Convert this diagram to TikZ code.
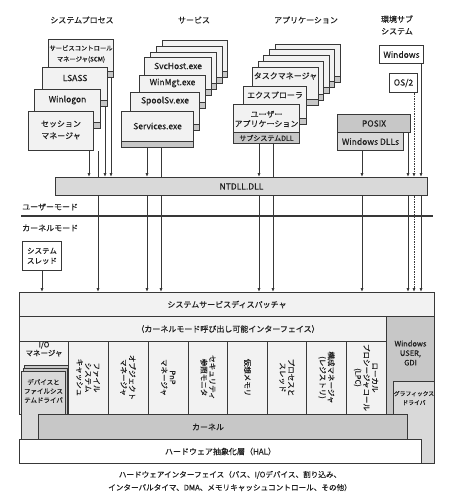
\documentclass[tikz,border=0pt]{standalone}
\usepackage{fontspec}
\setmainfont{Noto Sans CJK JP}[FakeBold=0.35]
\usetikzlibrary{arrows.meta,positioning}
\definecolor{boxFill}{gray}{0.95}
\definecolor{stripFill}{gray}{0.78}
\definecolor{darkFill}{gray}{0.78}
\definecolor{midFill}{gray}{0.85}
\definecolor{lineCol}{gray}{0.22}
\definecolor{textCol}{gray}{0.12}
\tikzset{
myProc/.style={
	draw=lineCol,fill=boxFill,line width=1pt,
	anchor=north west,inner sep=0pt
}
, myDll/.style={
	path picture={
		\fill[stripFill] (path picture bounding box.south west) rectangle ([yshift=6pt]path picture bounding box.south east);
		\draw[lineCol,line width=0.7pt] ([yshift=6pt]path picture bounding box.south west) -- ([yshift=6pt]path picture bounding box.south east);
	}
}
, myTxt/.style={align=center,inner sep=0pt,text=textCol,font=\fontsize{8}{9.5}\selectfont}
, myLat/.style={myTxt,font=\fontsize{8.5}{10}\selectfont}
, myHead/.style={myTxt,font=\fontsize{8}{12}\selectfont}
, myCell/.style={
	draw=lineCol,fill=boxFill,line width=1pt,
	rotate=-90,minimum width=73pt,minimum height=40pt,
	inner sep=0pt,align=center,text=textCol,
	font=\fontsize{7.5}{8.5}\selectfont
}
% links
, myLink/.style={draw=lineCol,line width=0.9pt,-{Latex[length=4pt,width=3.2pt]}}
, myLine/.style={draw=lineCol,line width=0.9pt}
, myDash/.style={myLink,dash pattern=on 1.5pt off 1pt}
}

\begin{document}
\begin{tikzpicture}[x=1pt,y=-1pt]
	\useasboundingbox (0,0) rectangle (460,504);
	% headings
	\node[myHead] (HeadSys) at (82,20) {システムプロセス};
	\node[myHead] (HeadSvc) at (194,20) {サービス};
	\node[myHead] (HeadApp) at (306,20) {アプリケーション};
	\node[myHead] (HeadEnv) at (397,25) {環境サブ\\システム};

	% system processes
	\node[myProc,myDll,minimum width=65pt,minimum height=38pt] (Scm) at (48,39) {};
	\node[myTxt,font=\fontsize{6.3}{11}\selectfont] (ScmTxt) at ([yshift=-15pt]Scm.north) {サービスコントロール\\マネージャ(SCM)};
	\node[myProc,myDll,minimum width=65pt,minimum height=39pt] (Lsass) at (42,67) {};
	\node[myLat] (LsassTxt) at ([yshift=-11pt]Lsass.north) {LSASS};
	\node[myProc,myDll,minimum width=66pt,minimum height=39pt] (Winlogon) at (34,89) {};
	\node[myLat] (WinlogonTxt) at ([yshift=-11pt]Winlogon.north) {Winlogon};
	\node[myProc,minimum width=65pt,minimum height=39pt] (Smss) at (28,111) {};
	\node[myTxt,font=\fontsize{8}{12}\selectfont] (SmssTxt) at ([yshift=-19pt]Smss.north) {セッション\\マネージャ};

	% services
	\node[myProc,myDll,minimum width=65pt,minimum height=37pt] (SvcBackA) at (162,40) {};
	\node[myProc,myDll,minimum width=66pt,minimum height=37pt] (SvcBackB) at (156,46) {};
	\node[myProc,myDll,minimum width=66pt,minimum height=37pt] (SvcBackC) at (150,52) {};
	\node[myProc,myDll,minimum width=67pt,minimum height=38pt] (SvcHost) at (144,57) {};
	\node[myLat] (SvcHostTxt) at ([yshift=-9pt]SvcHost.north) {SvcHost.exe};
	\node[myProc,myDll,minimum width=66pt,minimum height=33pt] (WinMgt) at (139,75) {};
	\node[myLat] (WinMgtTxt) at ([yshift=-8pt]WinMgt.north) {WinMgt.exe};
	\node[myProc,myDll,minimum width=69pt,minimum height=38pt] (SpoolSv) at (130,92) {};
	\node[myLat] (SpoolSvTxt) at ([yshift=-9pt]SpoolSv.north) {SpoolSv.exe};
	\node[myProc,myDll,minimum width=72pt,minimum height=36pt] (Services) at (121,111) {};
	\node[myLat] (ServicesTxt) at ([yshift=-15pt]Services.north) {Services.exe};

	% applications
	\node[myProc,myDll,minimum width=65pt,minimum height=38pt] (AppBackA) at (275,44) {};
	\node[myProc,myDll,minimum width=65pt,minimum height=38pt] (AppBackB) at (269,49) {};
	\node[myProc,myDll,minimum width=66pt,minimum height=38pt] (AppBackC) at (263,55) {};
	\node[myProc,myDll,minimum width=65pt,minimum height=39pt] (AppBackD) at (258,61) {};
	\node[myProc,myDll,minimum width=66pt,minimum height=38pt] (TaskMgr) at (252,67) {};
	\node[myTxt] (TaskMgrTxt) at ([yshift=-9pt]TaskMgr.north) {タスクマネージャ};
	\node[myProc,myDll,minimum width=63pt,minimum height=38pt] (Explorer) at (243,86) {};
	\node[myTxt] (ExplorerTxt) at ([yshift=-9pt]Explorer.north) {エクスプローラ};
	\node[myProc,minimum width=66pt,minimum height=28pt] (UserApp) at (233,104) {};
	\node[myTxt] (UserAppTxt) at ([yshift=-15pt]UserApp.north) {ユーザー\\アプリケーション};
	\node[myProc,fill=stripFill,minimum width=66pt,minimum height=11pt,font=\fontsize{7}{8}\selectfont,text=textCol] (SubDll) at (233,132) {サブシステムDLL};

	% environment subsystems
	\node[myProc,fill=white,minimum width=44pt,minimum height=18pt,myLat] (WinEnv) at (379,45) {Windows};
	\node[myProc,fill=white,minimum width=28pt,minimum height=19pt,myLat] (Os2) at (389,73) {OS/2};
	\node[myProc,fill=darkFill,minimum width=73pt,minimum height=18pt,myLat] (Posix) at (337,114) {POSIX};
	\node[myProc,fill=midFill,minimum width=66pt,minimum height=18pt,myLat] (WinDlls) at (337,132) {Windows DLLs};

	% ntdll and mode line
	\node[myProc,fill=midFill,minimum width=372pt,minimum height=18pt,myLat] (NtDll) at (55,177) {NTDLL.DLL};
	\coordinate (ModeL) at (21,216);
	\coordinate (ModeR) at (433,216);
	\draw[lineCol,line width=2pt] (ModeL) -- (ModeR);
	\node[myTxt,anchor=west] (UserMode) at (22,207) {ユーザーモード};
	\node[myTxt,anchor=west] (KernelMode) at (22,228) {カーネルモード};
	\node[myProc,fill=white,minimum width=39pt,minimum height=29pt,myTxt,font=\fontsize{7.5}{10}\selectfont] (SysThread) at (22,241) {システム\\スレッド};

	% kernel mode
	\node[myProc,minimum width=415pt,minimum height=24pt,myTxt] (Disp) at (19,292) {システムサービスディスパッチャ};
	\node[myProc,minimum width=367pt,minimum height=25pt] (Iface) at (19,316) {};
	\node[myTxt] (IfaceTxt) at ([xshift=25pt]Iface.center) {（カーネルモード呼び出し可能インターフェイス）};
	\node[myProc,fill=darkFill,minimum width=48pt,minimum height=147pt] (WinUser) at (386,316) {};
	\node[myLat,font=\fontsize{7.5}{9.5}\selectfont] (WinUserTxt) at ([yshift=-37pt]WinUser.north) {Windows\\USER,\\GDI};
	\node[myProc,minimum width=49pt,minimum height=73pt] (IoMgr) at (19,341) {};
	\node[myTxt,font=\fontsize{7.5}{8.5}\selectfont] (IoMgrTxt) at ([yshift=-8pt]IoMgr.north) {I/O\\マネージャ};
	\node[myCell] (FsCache) at (88,377.5) {ファイル\\システム\\キャッシュ};
	\node[myCell] (ObjMgr) at (128,377.5) {オブジェクト\\マネージャ};
	\node[myCell] (PnpMgr) at (168,377.5) {PnP\\マネージャ};
	\node[myCell] (SecMon) at (208,377.5) {セキュリティ\\参照モニタ};
	\node[myCell] (VmMgr) at (247.5,377.5) {仮想メモリ};
	\node[myCell] (ProcThr) at (287,377.5) {プロセスと\\スレッド};
	\node[myCell] (CfgMgr) at (326.5,377.5) {構成マネージャ\\(レジストリ)};
	\node[myCell] (Lpc) at (366,377.5) {ローカル\\プロシージャコール\\(LPC)};
	\node[myProc,fill=midFill,minimum width=41pt,minimum height=82pt] (GfxDrv) at (393,381) {};
	\node[myTxt,font=\fontsize{5.8}{9}\selectfont] (GfxDrvTxt) at ([yshift=-17pt]GfxDrv.north) {グラフィックス\\ドライバ};
	\node[myProc,fill=darkFill,minimum width=44pt,minimum height=72pt] (DevDrvB) at (24,365) {};
	\node[myProc,fill=darkFill,minimum width=44pt,minimum height=70pt] (DevDrvA) at (22.5,368) {};
	\node[myProc,fill=midFill,minimum width=44pt,minimum height=68pt] (DevDrv) at (21,371) {};
	\node[myTxt,font=\fontsize{6.5}{9}\selectfont] (DevDrvTxt) at ([yshift=-20pt]DevDrv.north) {デバイスと\\ファイルシス\\テムドライバ};
	\node[myProc,fill=darkFill,minimum width=369pt,minimum height=25pt] (Kernel) at (38,414) {};
	\node[myTxt] (KernelTxt) at ([xshift=-15pt]Kernel.center) {カーネル};
	\node[myProc,fill=white,minimum width=402pt,minimum height=24pt,myTxt] (Hal) at (19,439) {ハードウェア抽象化層（HAL）};
	\node[myTxt,font=\fontsize{7.6}{13}\selectfont] (HwIface) at (230,481) {ハードウェアインターフェイス（バス、I/Oデバイス、割り込み、\\インターバルタイマ、DMA、メモリキャッシュコントロール、その他）};

	% links user mode
	\draw[myLink] ([xshift=-5pt]Smss.south east) -- ([xshift=-5pt]Smss.south east |- NtDll.north);
	\draw[myLine] ([xshift=-3pt]Winlogon.south east |- Smss.south) -- ([xshift=-3pt]Winlogon.south east |- NtDll.north);
	\draw[myLink] ([xshift=-3pt]Lsass.south east) -- ([xshift=-3pt]Lsass.south east |- NtDll.north);
	\draw[myLink] ([xshift=-3pt]Scm.south east) -- ([xshift=-3pt]Scm.south east |- NtDll.north);
	\draw[myLink] ([xshift=26pt]Services.south west) -- ([xshift=26pt]Services.south west |- NtDll.north);
	\draw[myLine] ([xshift=40pt]Services.south west) -- ([xshift=40pt]Services.south west |- NtDll.north);
	\draw[myLink] ([xshift=26pt]SubDll.south west) -- ([xshift=26pt]SubDll.south west |- NtDll.north);
	\draw[myLine] ([xshift=40pt]SubDll.south west) -- ([xshift=40pt]SubDll.south west |- NtDll.north);
	\draw[myLink] ([xshift=25pt]WinDlls.south west) -- ([xshift=25pt]WinDlls.south west |- NtDll.north);
	\draw[myLink] ([xshift=-3pt]Posix.south east) -- ([xshift=-3pt]Posix.south east |- NtDll.north);
	\draw[myDash] ([xshift=-4pt]Os2.south east) -- ([xshift=-4pt]Os2.south east |- NtDll.north);
	\draw[myLink] ([xshift=-3pt]WinEnv.south east) -- ([xshift=-3pt]WinEnv.south east |- NtDll.north);

	% links kernel mode
	\draw[myLink] ([xshift=-3pt]Winlogon.south east |- NtDll.south) -- ([xshift=-3pt]Winlogon.south east |- Disp.north);
	\draw[myLink] ([xshift=26pt]Services.south west |- NtDll.south) -- ([xshift=26pt]Services.south west |- Disp.north);
	\draw[myLink] ([xshift=40pt]Services.south west |- NtDll.south) -- ([xshift=40pt]Services.south west |- Disp.north);
	\draw[myLink] ([xshift=26pt]SubDll.south west |- NtDll.south) -- ([xshift=26pt]SubDll.south west |- Disp.north);
	\draw[myLink] ([xshift=40pt]SubDll.south west |- NtDll.south) -- ([xshift=40pt]SubDll.south west |- Disp.north);
	\draw[myLink] ([xshift=25pt]WinDlls.south west |- NtDll.south) -- ([xshift=25pt]WinDlls.south west |- Disp.north);
	\draw[myLink] ([xshift=-3pt]Posix.south east |- NtDll.south) -- ([xshift=-3pt]Posix.south east |- Disp.north);
	\draw[myDash] ([xshift=-4pt]Os2.south east |- NtDll.south) -- ([xshift=-4pt]Os2.south east |- Disp.north);
	\draw[myLink] ([xshift=-3pt]WinEnv.south east |- NtDll.south) -- ([xshift=-3pt]WinEnv.south east |- Disp.north);
	\draw[myLink] (SysThread.south) -- (SysThread.south |- Disp.north);
\end{tikzpicture}
\end{document}
